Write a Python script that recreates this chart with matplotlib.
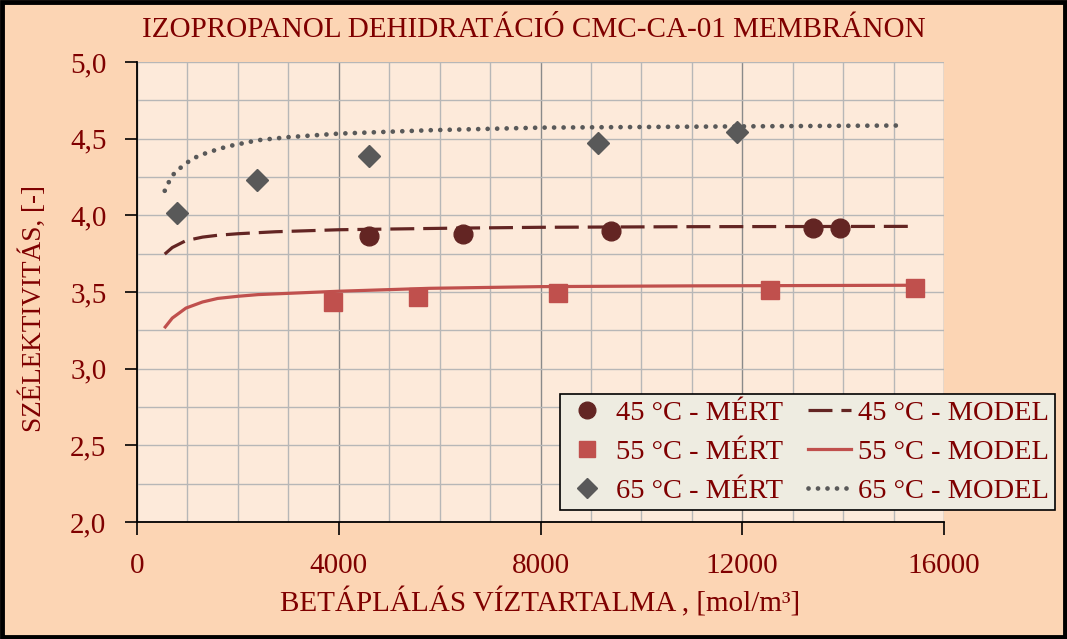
import matplotlib
matplotlib.use("Agg")
import matplotlib.pyplot as plt
from matplotlib.patches import Rectangle
from matplotlib.ticker import MultipleLocator, FuncFormatter
from matplotlib.lines import Line2D

plt.rcParams['font.family'] = ['Liberation Serif', 'DejaVu Serif']

# measured data
x45 = [4600, 6460, 9400, 13400, 13940]
y45 = [3.865, 3.878, 3.898, 3.917, 3.918]
x55 = [3890, 5570, 8350, 12550, 15420]
y55 = [3.435, 3.467, 3.493, 3.513, 3.526]
x65 = [790, 2380, 4600, 9140, 11900]
y65 = [4.015, 4.23, 4.387, 4.472, 4.543]

# model curves
xm45 = [550, 700, 970, 1300, 1600, 2000, 2750, 4000, 6200, 8000, 11000, 15300]
ym45 = [3.747, 3.79, 3.835, 3.858, 3.870, 3.880, 3.893, 3.906, 3.916, 3.922, 3.926, 3.928]
xm55 = [560, 700, 970, 1300, 1600, 2000, 2400, 4000, 5800, 8000, 11000, 15350]
ym55 = [3.272, 3.33, 3.395, 3.435, 3.458, 3.472, 3.483, 3.505, 3.524, 3.535, 3.540, 3.544]
xm65 = [550, 650, 750, 900, 1100, 1400, 1800, 2400, 3000, 4000, 5800, 8000, 11900, 15200]
ym65 = [4.16, 4.23, 4.28, 4.32, 4.37, 4.41, 4.45, 4.49, 4.51, 4.533, 4.555, 4.572, 4.580, 4.586]

labels_m = ['45 °C - MÉRT', '55 °C - MÉRT', '65 °C - MÉRT']
labels_l = ['45 °C - MODEL', '55 °C - MODEL', '65 °C - MODEL']
title = 'IZOPROPANOL DEHIDRATÁCIÓ CMC-CA-01 MEMBRÁNON'
xlabel = 'BETÁPLÁLÁS VÍZTARTALMA , [mol/m³]'
ylabel = 'SZÉLEKTIVITÁS, [-]'

c45 = '#632523'
c55 = '#C0504D'
c65 = '#595959'
txt = '#7F0000'

fig = plt.figure(figsize=(10.67, 6.39), dpi=100, facecolor='#FCD5B4')
ax = fig.add_axes([137/1067, 1-522/639, (944-137)/1067, (522-62)/639])
ax.set_facecolor('#FDEADA')

ax.set_xlim(0, 16000)
ax.set_ylim(2.0, 5.0)
ax.xaxis.set_major_locator(MultipleLocator(4000))
ax.xaxis.set_minor_locator(MultipleLocator(1000))
ax.yaxis.set_major_locator(MultipleLocator(0.5))
ax.yaxis.set_minor_locator(MultipleLocator(0.25))
ax.yaxis.set_major_formatter(FuncFormatter(lambda v, p: f'{v:.1f}'.replace('.', ',')))
ax.grid(which='minor', color='#B7B7B7', lw=1.0)
ax.grid(which='major', axis='y', color='#B7B7B7', lw=1.0)
ax.grid(which='major', axis='x', color='#8A8A8A', lw=1.0)
ax.set_axisbelow(True)
ax.tick_params(which='minor', length=0)
ax.tick_params(which='major', direction='out', length=9, width=1.2, color='black',
               labelsize=21, labelcolor=txt)
ax.tick_params(axis='x', pad=13)
ax.tick_params(axis='y', pad=13)
for s in ['top', 'right']:
    ax.spines[s].set_visible(False)
for s in ['left', 'bottom']:
    ax.spines[s].set_linewidth(1.3)

ax.plot(xm45, ym45, color=c45, lw=2.3, dashes=(7.5, 2.8), zorder=3)
ax.plot(xm55, ym55, color=c55, lw=2.3, zorder=3)
ax.plot(xm65, ym65, color=c65, lw=3.4, linestyle=(0, (0.01, 2.0)), dash_capstyle='round', zorder=3)

ax.plot(x45, y45, 'o', color=c45, ms=13.5, ls='none', zorder=4)
ax.plot(x55, y55, 's', color=c55, ms=12.5, ls='none', zorder=4)
ax.plot(x65, y65, 'D', color=c65, ms=11.5, ls='none', zorder=4)

ax.set_xlabel(xlabel, fontsize=21, color=txt, labelpad=6)
fig.text(33/1067, 1-309/639, ylabel, rotation=90, ha='center', va='center',
         fontsize=19.5, color=txt)
fig.text(0.5, 1-30/639, title, ha='center', va='center', fontsize=21, color=txt)

handles = [
    Line2D([], [], marker='o', color=c45, ls='none', ms=12),
    Line2D([], [], marker='s', color=c55, ls='none', ms=11),
    Line2D([], [], marker='D', color=c65, ls='none', ms=10),
    Line2D([], [], color=c45, lw=2.3, dashes=(7.5, 2.8)),
    Line2D([], [], color=c55, lw=2.3),
    Line2D([], [], color=c65, lw=3.4, linestyle=(0, (0.01, 2.0)), dash_capstyle='round'),
]
leg = fig.legend(handles, labels_m + labels_l, ncol=2, loc='lower right',
                 bbox_to_anchor=(1055/1067, 1-510/639), fontsize=20.5,
                 frameon=True, fancybox=False, edgecolor='black', facecolor='#EEECE1',
                 framealpha=1, handlelength=1.5, handletextpad=0.25, columnspacing=0.9,
                 labelspacing=0.47, borderpad=0.2, borderaxespad=0, labelcolor=txt)
leg.get_frame().set_linewidth(1.2)

fig.add_artist(Rectangle((0.002, 0.003), 0.996, 0.994, transform=fig.transFigure,
                         fill=False, edgecolor='black', lw=3.5))

fig.savefig('out.png', dpi=100, facecolor=fig.get_facecolor())
